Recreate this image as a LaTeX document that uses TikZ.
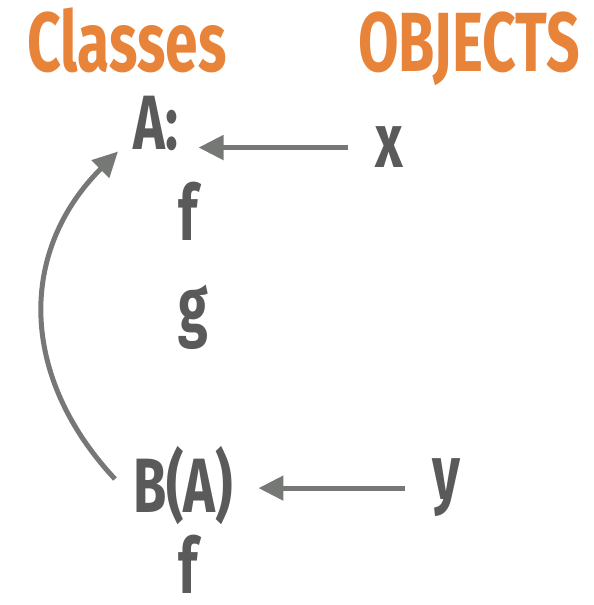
\documentclass[tikz,border=0pt]{standalone}
\usepackage{fontspec}
\newfontfamily\slidefont[FakeStretch=0.7]{Fira Sans}
\usetikzlibrary{arrows.meta}
\definecolor{headorange}{RGB}{232,131,58}
\definecolor{textgray}{RGB}{90,90,90}
\definecolor{arrowgray}{RGB}{118,120,118}

\begin{document}
\begin{tikzpicture}[x=1pt, y=1pt,
    head/.style={font={\slidefont\bfseries\fontsize{84}{84}\selectfont},
      text=headorange, inner sep=0pt},
    item/.style={font={\slidefont\bfseries\fontsize{77}{77}\selectfont},
      text=textgray, inner sep=0pt},
    conn/.style={arrowgray, line width=5pt,
      -{Triangle[length=25pt,width=24pt]}}]
  \useasboundingbox (0,0) rectangle (594,605);
  % Column titles
  \node[head, anchor=base west] (classes) at (27,533) {Classes};
  \node[head, anchor=base east] (objects) at (580,533) {OBJECTS};
  % Class A and its methods
  \node[item, anchor=base west] (clsA) at (133,455) {A:};
  \node[item, anchor=base west] (methf) at (178,364) {f};
  \node[item, anchor=base west] (methg) at (178,272) {g};
  % Class B(A) and its method
  \node[item, anchor=base west] (clsB) at (133,92) {B(A)};
  \node[item, anchor=base west] (methfb) at (178,11) {f};
  % Objects
  \node[item, anchor=base west] (objx) at (375,437) {x};
  \node[item, anchor=base west] (objy) at (432,105) {y};
  % Instance links
  \draw[conn, shorten <=27pt, shorten >=20pt]
    (objx.west) -- (objx.west -| clsA.east);
  \draw[conn, shorten <=27pt, shorten >=25pt]
    (objy.west) -- (objy.west -| clsB.east);
  % Inheritance B -> A
  \draw[conn] ([xshift=-18pt,yshift=7pt]clsB.west)
    to[out=133, in=225, looseness=1.1] ([xshift=-15pt]clsA.south west);
\end{tikzpicture}
\end{document}
